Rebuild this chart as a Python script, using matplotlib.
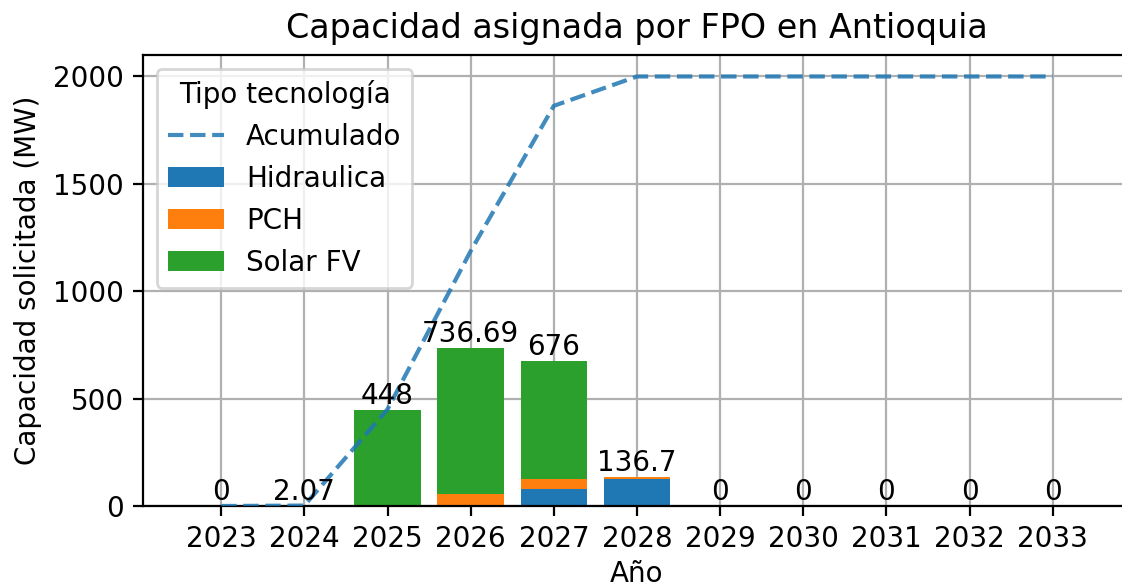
import matplotlib
matplotlib.use("Agg")
import matplotlib.pyplot as plt
import numpy as np

years = [2023, 2024, 2025, 2026, 2027, 2028, 2029, 2030, 2031, 2032, 2033]
hidraulica = [0, 0, 0, 0, 78, 126, 0, 0, 0, 0, 0]
pch = [0, 0, 0, 55, 50, 10.7, 0, 0, 0, 0, 0]
solar = [0, 2.07, 448, 681.69, 548, 0, 0, 0, 0, 0, 0]
totals = [0, 2.07, 448, 736.69, 676, 136.7, 0, 0, 0, 0, 0]
total_labels = ["0", "2.07", "448", "736.69", "676", "136.7", "0", "0", "0", "0", "0"]

DPI = 200
W, H = 1122, 585
fig = plt.figure(figsize=(W / DPI, H / DPI), dpi=DPI)
left, right, top, bottom = 143, 1131, 55, 506
ax = fig.add_axes([left / W, 1 - bottom / H, (right - left) / W, (bottom - top) / H])

x = np.array(years)
h = np.array(hidraulica)
p = np.array(pch)
s = np.array(solar)
acum = np.cumsum(np.array(totals))

ax.plot(x, acum, linestyle="--", color="#1f77b4", alpha=0.85, label="Acumulado", zorder=3)
ax.bar(x, h, width=0.8, color="#1f77b4", label="Hidraulica", zorder=2)
ax.bar(x, p, width=0.8, bottom=h, color="#ff7f0e", label="PCH", zorder=2)
ax.bar(x, s, width=0.8, bottom=h + p, color="#2ca02c", label="Solar FV", zorder=2)

for xi, t, lab in zip(x, totals, total_labels):
    ax.text(xi, t, lab, ha="center", va="bottom", fontsize=10, zorder=4)

ax.set_xticks(years)
ax.set_xticklabels([str(y) for y in years])
ax.set_yticks([0, 500, 1000, 1500, 2000])
ax.grid(True, zorder=0)
ax.set_axisbelow(True)
ax.set_title("Capacidad asignada por FPO en Antioquia", fontsize=12)
ax.set_xlabel("Año", labelpad=2.2)
ax.set_ylabel("Capacidad solicitada (MW)")
ax.legend(title="Tipo tecnología", loc="upper left")

fig.savefig("out.png", dpi=DPI)
